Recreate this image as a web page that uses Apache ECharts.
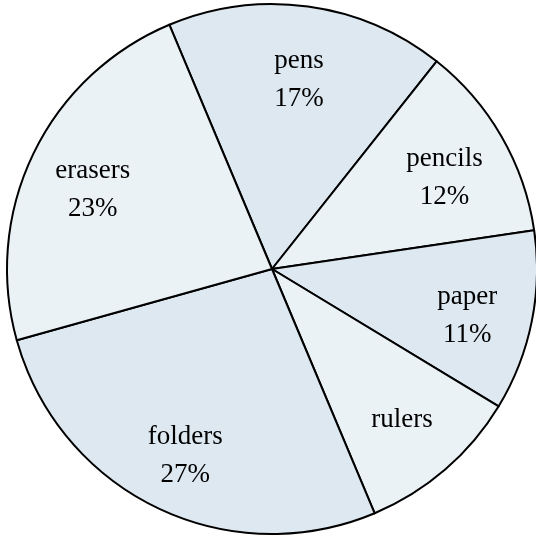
<!DOCTYPE html>
<html>
<head>
<meta charset="utf-8">
<style>
  html, body { margin: 0; padding: 0; background: #ffffff; }
  #chart { width: 536px; height: 538px; }
</style>
<script src="https://cdn.jsdelivr.net/npm/echarts@6/dist/echarts.min.js"></script>
</head>
<body>
<div id="chart"></div>
<script>
// Share of school supplies, in percent
const categories = ['pens', 'pencils', 'paper', 'rulers', 'folders', 'erasers'];
const shares = [17, 12, 11, 10, 27, 23];
// Whether the slice label also prints its percentage
const showShare = [true, true, true, false, true, true];

const sliceColors = ['#dde8f1', '#ebf2f6'];

const chart = echarts.init(document.getElementById('chart'), null, { renderer: 'canvas' });

const pieData = categories.map((name, i) => ({
  name: name,
  value: shares[i],
  itemStyle: { color: sliceColors[i % 2] }
}));

const labelData = categories.map((name, i) => ({
  name: name,
  value: shares[i],
  label: showShare[i]
    ? { formatter: name + '\n' + shares[i] + '%', offset: [0, 8] }
    : { formatter: name }
}));

const center = [272, 269];
const outer = 265;
const startAngle = 112.8;

chart.setOption({
  animation: false,
  series: [
    {
      type: 'pie',
      center: center,
      radius: [0, outer],
      startAngle: startAngle,
      clockwise: true,
      silent: true,
      label: { show: false },
      labelLine: { show: false },
      itemStyle: { borderColor: '#000000', borderWidth: 2 },
      emphasis: { disabled: true },
      data: pieData
    },
    {
      // transparent ring that places the labels at about three quarters of the radius
      type: 'pie',
      center: center,
      radius: [outer * 0.48, outer],
      startAngle: startAngle,
      clockwise: true,
      silent: true,
      itemStyle: { color: 'rgba(0,0,0,0)', borderWidth: 0 },
      labelLine: { show: false },
      emphasis: { disabled: true },
      label: {
        show: true,
        position: 'inside',
        color: '#000000',
        fontFamily: '"Liberation Serif", "Times New Roman", serif',
        fontSize: 27,
        lineHeight: 38,
        align: 'center'
      },
      data: labelData
    }
  ]
});
</script>
</body>
</html>
